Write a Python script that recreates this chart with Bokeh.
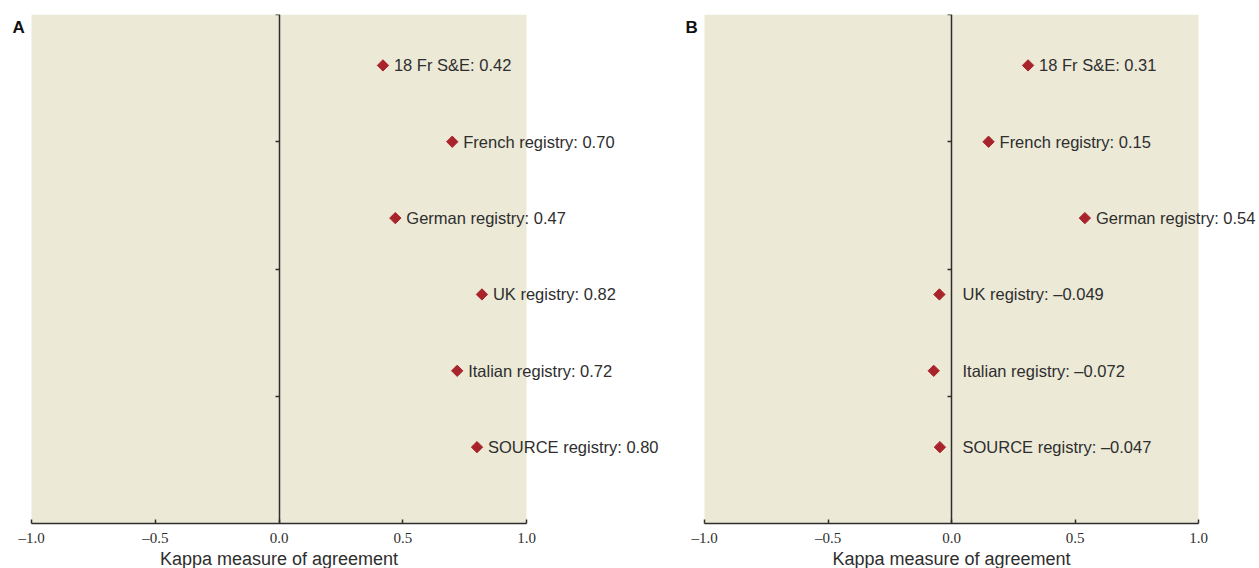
from bokeh.plotting import figure
from bokeh.models import (ColumnDataSource, Range1d, FixedTicker, LinearAxis,
                          LabelSet, Label, BoxAnnotation)
from bokeh.core.properties import value
from bokeh.layouts import row
from bokeh.embed import file_html
from bokeh.resources import INLINE

# ---- data ----
registries = ["18 Fr S&E", "French registry", "German registry",
              "UK registry", "Italian registry", "SOURCE registry"]
row_pos = [3.6, 3.0, 2.4, 1.8, 1.2, 0.6]
kappa_a = [0.42, 0.70, 0.47, 0.82, 0.72, 0.80]
kappa_a_text = ["0.42", "0.70", "0.47", "0.82", "0.72", "0.80"]
kappa_b = [0.31, 0.15, 0.54, -0.049, -0.072, -0.047]
kappa_b_text = ["0.31", "0.15", "0.54", "\u20130.049", "\u20130.072", "\u20130.047"]
x_ticks = [-1.0, -0.5, 0.0, 0.5, 1.0]
x_tick_labels = ["\u20131.0", "\u20130.5", "0.0", "0.5", "1.0"]
y_ticks = [1, 2, 3, 4]
x_title = "Kappa measure of agreement"
panel_names = ["A", "B"]

BG = "#ECE9D7"
RED = "#A8232A"
INK = "#2e2e2e"
LABEL_FONT = "Liberation Sans"

H = 568
TOP_PX = 14       # frame top (y = 4)
AXIS_PX = 523     # x axis line (y = 0)


def make_panel(values, texts, name, width, px_m1, px_p1):
    s = (px_p1 - px_m1) / 2.0              # pixels per kappa unit
    x0 = -1 - px_m1 / s
    x1 = x0 + width / s
    sy = (AXIS_PX - TOP_PX) / 4.0          # pixels per y unit
    y0 = -(H - AXIS_PX) / sy
    src = ColumnDataSource(dict(
        x=values,
        y=row_pos,
        lx=[max(v, 0.0) for v in values],
        txt=[f"{r}: {t}" for r, t in zip(registries, texts)],
    ))
    p = figure(width=width, height=H, output_backend="svg",
               toolbar_location=None, x_range=Range1d(x0, x1),
               y_range=Range1d(y0, 4), min_border_left=0,
               min_border_right=0, min_border_top=TOP_PX, min_border_bottom=0,
               x_axis_location=None, y_axis_location=None,
               background_fill_color="white", border_fill_color="white",
               outline_line_color=None)
    p.grid.visible = False

    p.add_layout(BoxAnnotation(left=-1, right=1, bottom=0, fill_color=BG,
                               fill_alpha=1.0, line_color=None,
                               level="underlay"))

    # x axis along y = 0
    xa = LinearAxis(fixed_location=0, bounds=(-1, 1),
                    ticker=FixedTicker(ticks=x_ticks))
    xa.major_label_overrides = {t: s_ for t, s_ in zip(x_ticks, x_tick_labels)}
    xa.major_tick_in = 4
    xa.major_tick_out = 0
    xa.minor_tick_line_color = None
    xa.axis_line_color = INK
    xa.axis_line_width = 1.5
    xa.major_tick_line_color = INK
    xa.major_tick_line_width = 1.5
    xa.major_label_text_font = "Liberation Serif"
    xa.major_label_text_font_size = "15px"
    xa.major_label_text_color = INK
    xa.major_label_standoff = 6
    p.add_layout(xa, "below")

    # y axis along x = 0 (ticks only, no labels)
    ya = LinearAxis(fixed_location=0, bounds=(0, 4),
                    ticker=FixedTicker(ticks=y_ticks))
    ya.major_label_overrides = {t: "" for t in y_ticks}
    ya.major_tick_out = 4
    ya.major_tick_in = 0
    ya.minor_tick_line_color = None
    ya.axis_line_color = INK
    ya.axis_line_width = 1.5
    ya.major_tick_line_color = INK
    ya.major_tick_line_width = 1.5
    ya.major_label_text_color = None
    ya.major_label_standoff = 0
    p.add_layout(ya, "left")

    p.scatter("x", "y", source=src, marker="square", angle=0.785398,
              size=8, fill_color=RED, line_color=RED)
    labels = LabelSet(x="lx", y="y", text="txt", source=src, x_offset=11,
                      text_baseline="middle", text_align="left",
                      text_font=value(LABEL_FONT), text_font_size=value("16.5px"),
                      text_color=INK)
    p.add_layout(labels)

    # axis title centred under x = 0
    p.add_layout(Label(x=0, y=-(548 - AXIS_PX) / sy, text=x_title,
                       text_baseline="top", text_align="center",
                       text_font=LABEL_FONT, text_font_size="18px",
                       text_color=INK))

    p.add_layout(Label(x=-1 - 19 / s, y=3.97, text=name, text_baseline="top",
                       text_align="left", text_font=LABEL_FONT,
                       text_font_style="bold", text_font_size="17px",
                       text_color="#111"))
    return p


pa = make_panel(kappa_a, kappa_a_text, panel_names[0], 678, 31, 526)
pb = make_panel(kappa_b, kappa_b_text, panel_names[1], 581, 26, 520)
layout = row(pa, pb, spacing=0)

open("out.html", "w").write(file_html(layout, INLINE))
